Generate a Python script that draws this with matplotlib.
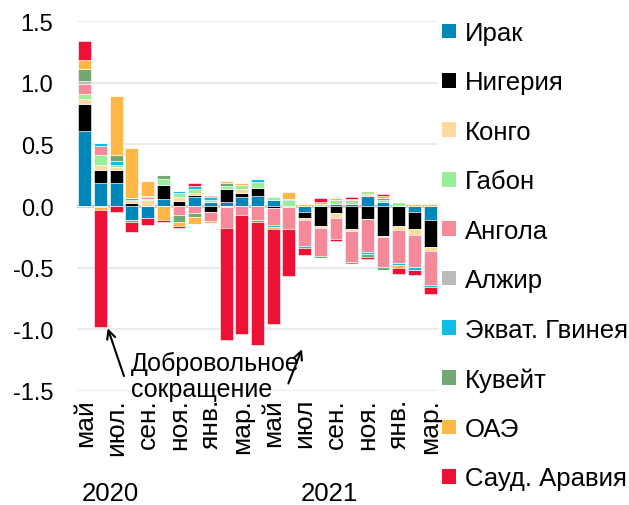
import numpy as np
import matplotlib.pyplot as plt
from matplotlib.patches import Patch

plt.rcParams['font.family'] = ['Liberation Sans', 'DejaVu Sans']

# months May 2020 .. Mar 2022
tick_labels = ['май', 'июл.', 'сен.', 'ноя.', 'янв.', 'мар.',
               'май', 'июл', 'сен.', 'ноя.', 'янв.', 'мар.']
years = ['2020', '2021']

countries = ['Ирак', 'Нигерия', 'Конго', 'Габон', 'Ангола', 'Алжир',
             'Экват. Гвинея', 'Кувейт', 'ОАЭ', 'Сауд. Аравия']
colors = ['#0088bb', '#000000', '#ffda9e', '#99ee99', '#f78a9a', '#bbbbbb',
          '#11bde6', '#73a873', '#ffb845', '#ee1136']

iraq = [0.61, 0.19, 0.19, -0.11, -0.10, 0.06, 0, 0.075, 0.03, 0.035, 0.07, 0.085,
        0.05, -0.01, -0.05, 0, 0.02, 0.015, 0.085, 0.035, 0, -0.05, -0.115]
nigeria = [0.22, 0.10, 0.10, 0.025, 0, 0.11, 0.04, 0.015, -0.045, 0.10, 0.035, 0.065,
           -0.015, 0, -0.045, -0.16, -0.06, -0.19, -0.105, -0.24, -0.16, -0.14, -0.22]
congo = [0.035, 0.046, 0.03, 0.02, 0.045, 0, 0.035, 0.015, 0, -0.01, 0.03, 0,
         0, 0, -0.02, -0.015, -0.035, -0.01, 0.015, -0.015, -0.035, -0.045, -0.03]
gabon = [0.046, 0.08, 0.016, 0, 0.015, 0.05, 0.03, 0.03, 0.02, 0.03, 0.035, 0.045,
         0.02, 0.05, 0, 0.015, 0.03, 0.03, 0.02, 0.015, 0.03, 0, 0]
angola = [0.08, 0.068, 0, 0, 0.015, 0, -0.07, -0.06, -0.075, -0.17, -0.07, -0.116,
          -0.14, -0.18, -0.21, -0.23, -0.17, -0.25, -0.27, -0.24, -0.27, -0.26, -0.275]
algeria = [0.02, 0, 0, 0, 0, 0, 0, 0, 0, 0, 0, 0,
           0.015, 0, 0, 0, 0, 0, 0, 0, 0, 0, 0]
eq_guinea = [0, 0.03, 0.03, 0.02, 0, 0, 0.02, 0.03, 0.02, 0, 0, 0.02,
             -0.015, 0.01, -0.015, 0, 0, 0, -0.015, 0.015, -0.015, -0.02, -0.015]
kuwait = [0.10, -0.01, 0.05, -0.02, 0.01, 0.035, -0.06, -0.03, 0, 0.02, 0, -0.015,
          0, 0, 0, -0.015, 0, -0.02, -0.02, -0.02, 0, 0, 0]
uae = [0.07, -0.02, 0.48, 0.405, 0.12, -0.11, -0.03, -0.055, -0.02, 0.015, 0.02, 0,
       -0.015, 0.055, 0.02, 0.015, 0.015, 0.015, 0, 0.015, -0.02, 0.02, 0.02]
saudi = [0.16, -0.95, -0.05, -0.08, -0.05, -0.02, -0.02, 0.02, 0.015, -0.91, -0.97, -1.0,
         -0.77, -0.38, -0.055, 0.035, -0.02, 0.015, -0.02, 0.015, -0.05, -0.045, -0.06]

series = [iraq, nigeria, congo, gabon, angola, algeria, eq_guinea, kuwait, uae, saudi]

fig = plt.figure(figsize=(6.29, 5.06), dpi=100)
ax = fig.add_axes([0.1224, 0.2253, 0.5739, 0.7312])

x = np.arange(len(iraq))
pos_base = np.zeros(len(x))
neg_base = np.zeros(len(x))
for name, vals, col in zip(countries, series, colors):
    v = np.array(vals, dtype=float)
    p = np.where(v > 0, v, 0)
    n = np.where(v < 0, v, 0)
    ax.bar(x, p, 0.82, bottom=pos_base, color=col, edgecolor='white', linewidth=0.4, zorder=3)
    ax.bar(x, n, 0.82, bottom=neg_base, color=col, edgecolor='white', linewidth=0.4, zorder=3)
    pos_base += p
    neg_base += n

ax.set_xlim(-0.5, 22.5)
ax.set_ylim(-1.5, 1.5)
ax.set_yticks([-1.5, -1.0, -0.5, 0.0, 0.5, 1.0, 1.5])
ax.set_yticklabels(['-1.5', '-1.0', '-0.5', '0.0', '0.5', '1.0', '1.5'])
ax.set_xticks(x[::2])
ax.set_xticklabels(tick_labels, rotation=90, va='top')
ax.tick_params(axis='y', length=0, pad=17, labelsize=17)
ax.tick_params(axis='x', length=0, pad=5, labelsize=19)
ax.grid(axis='y', color='#ebebeb', linewidth=1.5, zorder=0)
ax.axhline(0, color='#c5cbce', linewidth=2, zorder=2)
for s in ax.spines.values():
    s.set_visible(False)

# year labels
ax.text(1.6, -0.275, years[0], transform=ax.get_xaxis_transform(),
        ha='center', va='center', fontsize=18.5)
ax.text(15.6, -0.275, years[1], transform=ax.get_xaxis_transform(),
        ha='center', va='center', fontsize=18.5)

# annotation
ax.text(2.93, -1.175, 'Добровольное\nсокращение', ha='left', va='top',
        fontsize=18, linespacing=1.12, zorder=5)
ax.annotate('', xy=(1.4, -0.97), xytext=(2.55, -1.40),
            arrowprops=dict(arrowstyle='->', lw=1.5, color='black', mutation_scale=15),
            annotation_clip=False)
ax.annotate('', xy=(13.9, -1.14), xytext=(12.9, -1.46),
            arrowprops=dict(arrowstyle='->', lw=1.5, color='black', mutation_scale=15),
            annotation_clip=False)

handles = [Patch(facecolor=c, edgecolor='none') for c in colors]
ax.legend(handles, countries, loc='upper left', bbox_to_anchor=(1.01, 1.0),
          frameon=False, fontsize=18.5, handlelength=0.55, handleheight=0.5,
          handletextpad=0.35, labelspacing=0.99, borderaxespad=0, borderpad=0)

fig.savefig('out.png', dpi=100)
